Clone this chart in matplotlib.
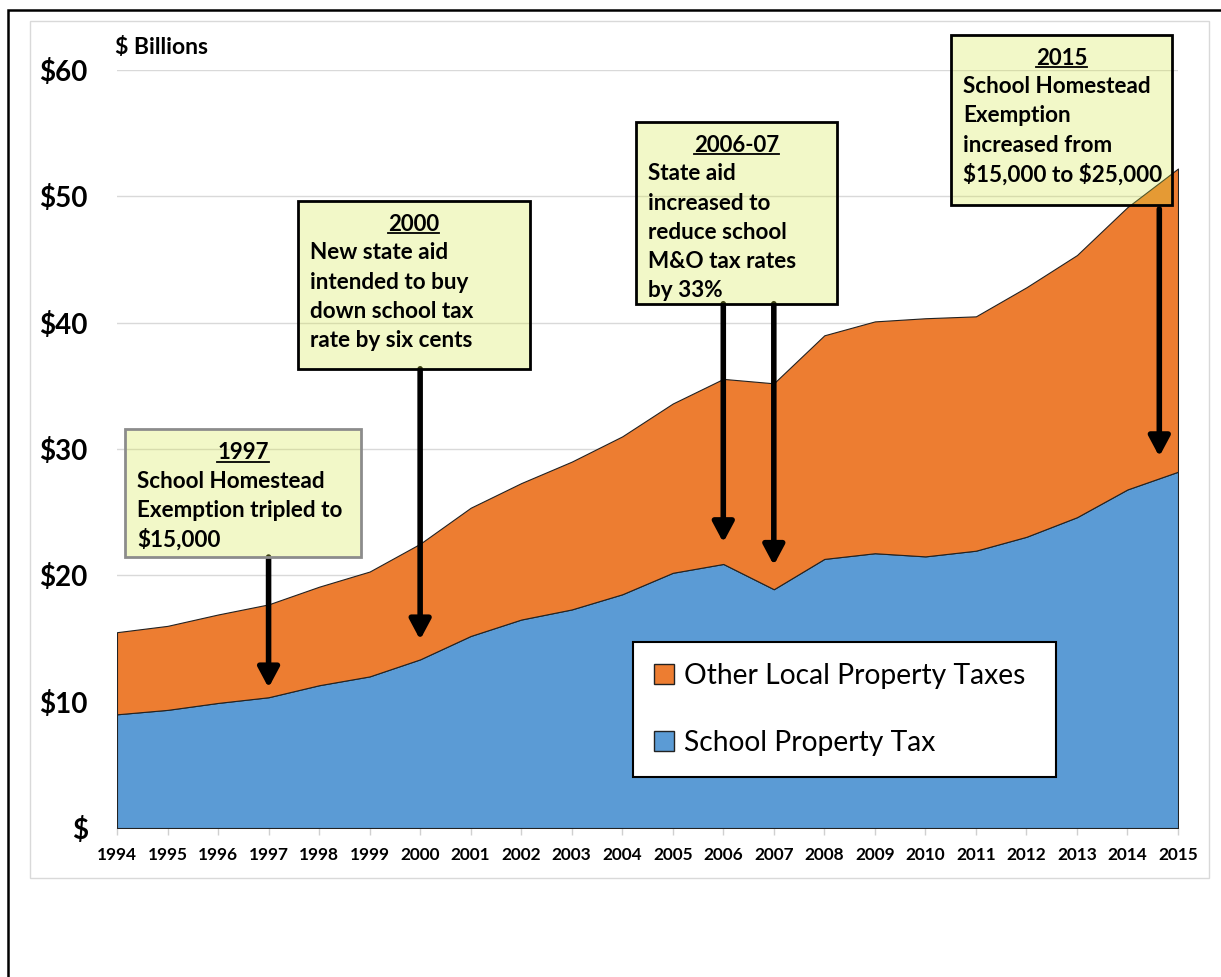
import matplotlib
matplotlib.use("Agg")
import matplotlib.pyplot as plt
from matplotlib.patches import Rectangle, Patch
from matplotlib.lines import Line2D

plt.rcParams['font.family'] = ['Lato', 'DejaVu Sans']

# data ($ billions)
years = list(range(1994, 2016))
school_tax = [9.0, 9.35, 9.9, 10.35, 11.3, 12.0, 13.35, 15.2, 16.5, 17.3, 18.5,
              20.2, 20.9, 18.9, 21.3, 21.75, 21.5, 21.95, 23.05, 24.6, 26.8, 28.2]
other_tax = [6.5, 6.65, 7.0, 7.35, 7.8, 8.3, 9.15, 10.15, 10.8, 11.7, 12.5,
             13.4, 14.65, 16.3, 17.7, 18.35, 18.85, 18.55, 19.75, 20.75, 22.35, 24.0]
series_labels = ["School Property Tax", "Other Local Property Taxes"]
y_ticks = [0, 10, 20, 30, 40, 50, 60]

# annotation notes
note_titles = ["1997", "2000", "2006-07", "2015"]
note_lines = [
    ["School Homestead", "Exemption tripled to", "$15,000"],
    ["New state aid", "intended to buy", "down school tax", "rate by six cents"],
    ["State aid", "increased to", "reduce school", "M&O tax rates", "by 33%"],
    ["School Homestead", "Exemption", "increased from", "$15,000 to $25,000"],
]
# box extents in data units: x0, x1, y_bottom, y_top
note_boxes = [
    (1994.16, 1998.83, 21.45, 31.55),
    (1997.58, 2002.17, 36.35, 49.65),
    (2004.27, 2008.25, 41.5, 55.9),
    (2010.51, 2014.88, 49.35, 62.8),
]
note_edges = ["#8C8C8C", "black", "black", "black"]
# arrows: x, start y, tip y
arrow_x = [1997, 2000, 2006, 2007, 2014.63]
arrow_start = [21.45, 36.35, 41.5, 41.5, 49.0]
arrow_tip = [11.1, 14.9, 22.6, 20.8, 29.4]

W, H = 1221, 977
fig = plt.figure(figsize=(W / 100, H / 100), dpi=100)

# outer frame and inner chart border
fig.patches.append(Rectangle((8 / W, -0.1), 1.2, 1 - 10 / H + 0.1, transform=fig.transFigure,
                             fill=False, edgecolor="black", linewidth=1.8))
fig.patches.append(Rectangle((30 / W, 1 - 878 / H), (1209 - 30) / W, (878 - 21) / H,
                             transform=fig.transFigure, fill=False,
                             edgecolor="#D9D9D9", linewidth=1))

ax = fig.add_axes([117 / W, 1 - 828 / H, (1178 - 117) / W, (828 - 70) / H])
ax.stackplot(years, school_tax, other_tax, colors=["#5B9BD5", "#ED7D31"],
             edgecolor="#222222", linewidth=0.8, zorder=2)

ax.set_xlim(1994, 2015)
ax.set_ylim(0, 60)
ax.set_xticks(years)
ax.set_yticks(y_ticks)
ax.set_yticklabels(["$" if v == 0 else "$%d" % v for v in y_ticks],
                   fontsize=20, fontweight="bold")
ax.set_xticklabels([str(y) for y in years], fontsize=12.4, fontweight="bold")
ax.tick_params(axis="y", length=0, pad=21)
ax.tick_params(axis="x", length=5, width=1, color="#D0D0D0", pad=9, direction="out")
ax.grid(axis="y", color="#D9D9D9", linewidth=1, zorder=0)
ax.set_axisbelow(True)
for side in ["left", "right", "top"]:
    ax.spines[side].set_visible(False)
ax.spines["bottom"].set_color("#D0D0D0")
ax.spines["bottom"].set_zorder(1)

fig.text(115 / W, 1 - 48 / H, "$ Billions", fontsize=16.5, fontweight="bold",
         va="center", ha="left", parse_math=False)

# arrows
for x, y0, y1 in zip(arrow_x, arrow_start, arrow_tip):
    ax.annotate("", xy=(x, y1), xytext=(x, y0),
                arrowprops=dict(arrowstyle="-|>,head_length=0.6,head_width=0.32",
                                lw=4, color="black", mutation_scale=20,
                                shrinkA=0, shrinkB=0),
                zorder=4, annotation_clip=False)

# note boxes
titles = []
for (x0, x1, yb, yt), title, lines, ec in zip(note_boxes, note_titles, note_lines, note_edges):
    ax.add_patch(Rectangle((x0, yb), x1 - x0, yt - yb, facecolor="#D2E63C", alpha=0.28,
                           edgecolor="none", zorder=5, clip_on=False))
    ax.add_patch(Rectangle((x0, yb), x1 - x0, yt - yb, fill=False, edgecolor=ec,
                           linewidth=2, zorder=6, clip_on=False))
    t = ax.annotate(title, xy=((x0 + x1) / 2, yt), xytext=(0, -30),
                    textcoords="offset pixels", ha="center", va="baseline",
                    fontsize=16, fontweight="bold", zorder=7, annotation_clip=False)
    titles.append(t)
    for i, line in enumerate(lines):
        ax.annotate(line, xy=(x0, yt), xytext=(12, -52 - 29.3 * i),
                    textcoords="offset pixels", ha="left", va="center",
                    fontsize=16.2, fontweight="bold", zorder=7, annotation_clip=False,
                    parse_math=False)

# underline the note titles
renderer = fig.canvas.get_renderer()
for t in titles:
    bb = t.get_window_extent(renderer)
    base = bb.y0 + (bb.height * 0.22)
    fig.add_artist(Line2D([bb.x0 / W, bb.x1 / W], [(base - 3) / H, (base - 3) / H],
                          transform=fig.transFigure, color="black", linewidth=1.3,
                          zorder=8))

# legend
handles = [Patch(facecolor="#ED7D31", edgecolor="#222222", label=series_labels[1]),
           Patch(facecolor="#5B9BD5", edgecolor="#222222", label=series_labels[0])]
leg = fig.legend(handles=handles, loc="upper left",
                 bbox_to_anchor=(633 / W, 1 - 642 / H - 0.01, (1056 - 633) / W, 0.01),
                 mode="expand", fontsize=20.3, frameon=True, fancybox=False,
                 framealpha=1, handlelength=0.7, handleheight=0.7, handletextpad=0.35,
                 labelspacing=1.45, borderpad=0.75, borderaxespad=0)
leg.get_frame().set_edgecolor("black")
leg.get_frame().set_linewidth(1.5)
leg.set_zorder(10)

fig.savefig("out.png", dpi=100)
